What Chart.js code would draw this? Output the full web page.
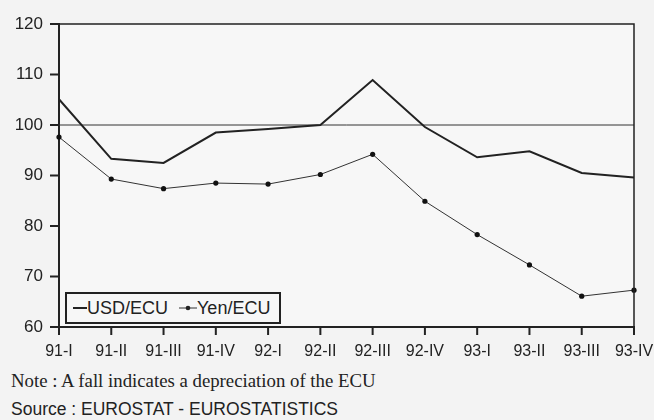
<!DOCTYPE html>
<html lang="en">
  <head>
    <meta charset="UTF-8" />
    <title>USD/ECU and Yen/ECU</title>
    <style>
      body { margin: 0; background: #f3f3f3; width: 654px; height: 420px; overflow: hidden; position: relative; }
      #wrap { position: absolute; left: 0; top: 0; width: 654px; height: 364px; }
      #legend {
        position: absolute; left: 65px; top: 292px; height: 28px; padding: 0 9px 0 6px;
        border: 2px solid #222; background: #f7f7f7; display: flex; align-items: center;
        font-family: "Liberation Sans", Arial, sans-serif; font-size: 18px; color: #222;
      }
      #legend span { display: inline-flex; align-items: center; margin-right: 11px; }
      #legend span:last-child { margin-right: 0; }
      .note { position: absolute; left: 11px; color: #222; white-space: nowrap; }
      #note { top: 370px; font-family: "Liberation Serif", "Times New Roman", serif; font-size: 18.8px; }
      #source { top: 399px; font-family: "Liberation Sans", Arial, sans-serif; font-size: 17.5px; }
    </style>
  </head>
  <body>
    <div id="wrap"><canvas id="myChart"></canvas></div>
    <div id="legend">
      <span><svg width="14" height="10"><line x1="0" y1="5" x2="14" y2="5" stroke="#222" stroke-width="2"/></svg>USD/ECU</span>
      <span><svg width="18" height="10"><line x1="0" y1="5" x2="18" y2="5" stroke="#333" stroke-width="1"/><circle cx="9" cy="5" r="2.3" fill="#222"/></svg>Yen/ECU</span>
    </div>
    <div class="note" id="note">Note : A fall indicates a depreciation of the ECU</div>
    <div class="note" id="source">Source : EUROSTAT - EUROSTATISTICS</div>

    <script src="https://cdn.jsdelivr.net/npm/chart.js"></script>

    <script>
      const quarters = ["91-I", "91-II", "91-III", "91-IV", "92-I", "92-II", "92-III", "92-IV", "93-I", "93-II", "93-III", "93-IV"];
      const usdEcu = [105.1, 93.3, 92.5, 98.5, 99.2, 100.0, 108.9, 99.6, 93.6, 94.8, 90.5, 89.6];
      const yenEcu = [97.6, 89.3, 87.4, 88.5, 88.3, 90.2, 94.2, 84.9, 78.3, 72.3, 66.1, 67.3];
      const yTicks = [60, 70, 80, 90, 100, 110, 120];
      const baseLevel = 100;

      // background, frame on top/right, tick marks and the 100 reference line
      const framePlugin = {
        id: "frame",
        beforeDraw(chart) {
          const { ctx, chartArea: a } = chart;
          ctx.save();
          ctx.fillStyle = "#f7f7f7";
          ctx.fillRect(a.left, a.top, a.right - a.left, a.bottom - a.top);
          ctx.restore();
        },
        beforeDatasetsDraw(chart) {
          const { ctx, chartArea: a, scales } = chart;
          ctx.save();
          const y = scales.y.getPixelForValue(baseLevel);
          ctx.strokeStyle = "#333";
          ctx.lineWidth = 1;
          ctx.beginPath();
          ctx.moveTo(a.left, y);
          ctx.lineTo(a.right, y);
          ctx.stroke();
          ctx.restore();
        },
        afterDraw(chart) {
          const { ctx, chartArea: a, scales } = chart;
          ctx.save();
          ctx.strokeStyle = "#222";
          ctx.lineWidth = 1.5;
          ctx.beginPath();
          ctx.moveTo(a.left, a.top);
          ctx.lineTo(a.right, a.top);
          ctx.lineTo(a.right, a.bottom);
          ctx.stroke();
          ctx.lineWidth = 2;
          ctx.beginPath();
          yTicks.forEach((v) => {
            const py = scales.y.getPixelForValue(v);
            ctx.moveTo(a.left - 9, py);
            ctx.lineTo(a.left, py);
          });
          quarters.forEach((q, i) => {
            const px = scales.x.getPixelForValue(i);
            ctx.moveTo(px, a.bottom);
            ctx.lineTo(px, a.bottom + 8);
          });
          ctx.stroke();
          ctx.restore();
        },
      };

      new Chart(document.getElementById("myChart"), {
        type: "line",
        data: {
          labels: quarters,
          datasets: [
            {
              label: "USD/ECU",
              data: usdEcu,
              borderColor: "#222",
              borderWidth: 2,
              pointRadius: 0,
              tension: 0,
            },
            {
              label: "Yen/ECU",
              data: yenEcu,
              borderColor: "#333",
              borderWidth: 1,
              pointRadius: 2.6,
              pointBackgroundColor: "#111",
              pointBorderWidth: 0,
              tension: 0,
            },
          ],
        },
        options: {
          responsive: true,
          maintainAspectRatio: false,
          animation: false,
          layout: { padding: { left: 0, right: 20, top: 24, bottom: 0 } },
          plugins: { legend: { display: false }, tooltip: { enabled: false } },
          scales: {
            x: {
              offset: false,
              grid: { display: false },
              border: { color: "#222", width: 2 },
              ticks: { color: "#222", font: { family: "Liberation Sans, Arial, sans-serif", size: 16 }, maxRotation: 0, autoSkip: false, padding: 7 },
              afterFit(scale) {
                scale.height = 37;
                scale.paddingLeft = 0;
                scale.paddingRight = 0;
              },
            },
            y: {
              min: 60,
              max: 120,
              afterBuildTicks(scale) { scale.ticks = yTicks.map((v) => ({ value: v })); },
              grid: { display: false },
              border: { color: "#222", width: 2 },
              ticks: { color: "#222", font: { family: "Liberation Sans, Arial, sans-serif", size: 17 }, padding: 8 },
              afterFit(scale) {
                scale.width = 59;
                scale.paddingTop = 0;
                scale.paddingBottom = 0;
              },
            },
          },
        },
        plugins: [framePlugin],
      });
    </script>
  </body>
</html>
